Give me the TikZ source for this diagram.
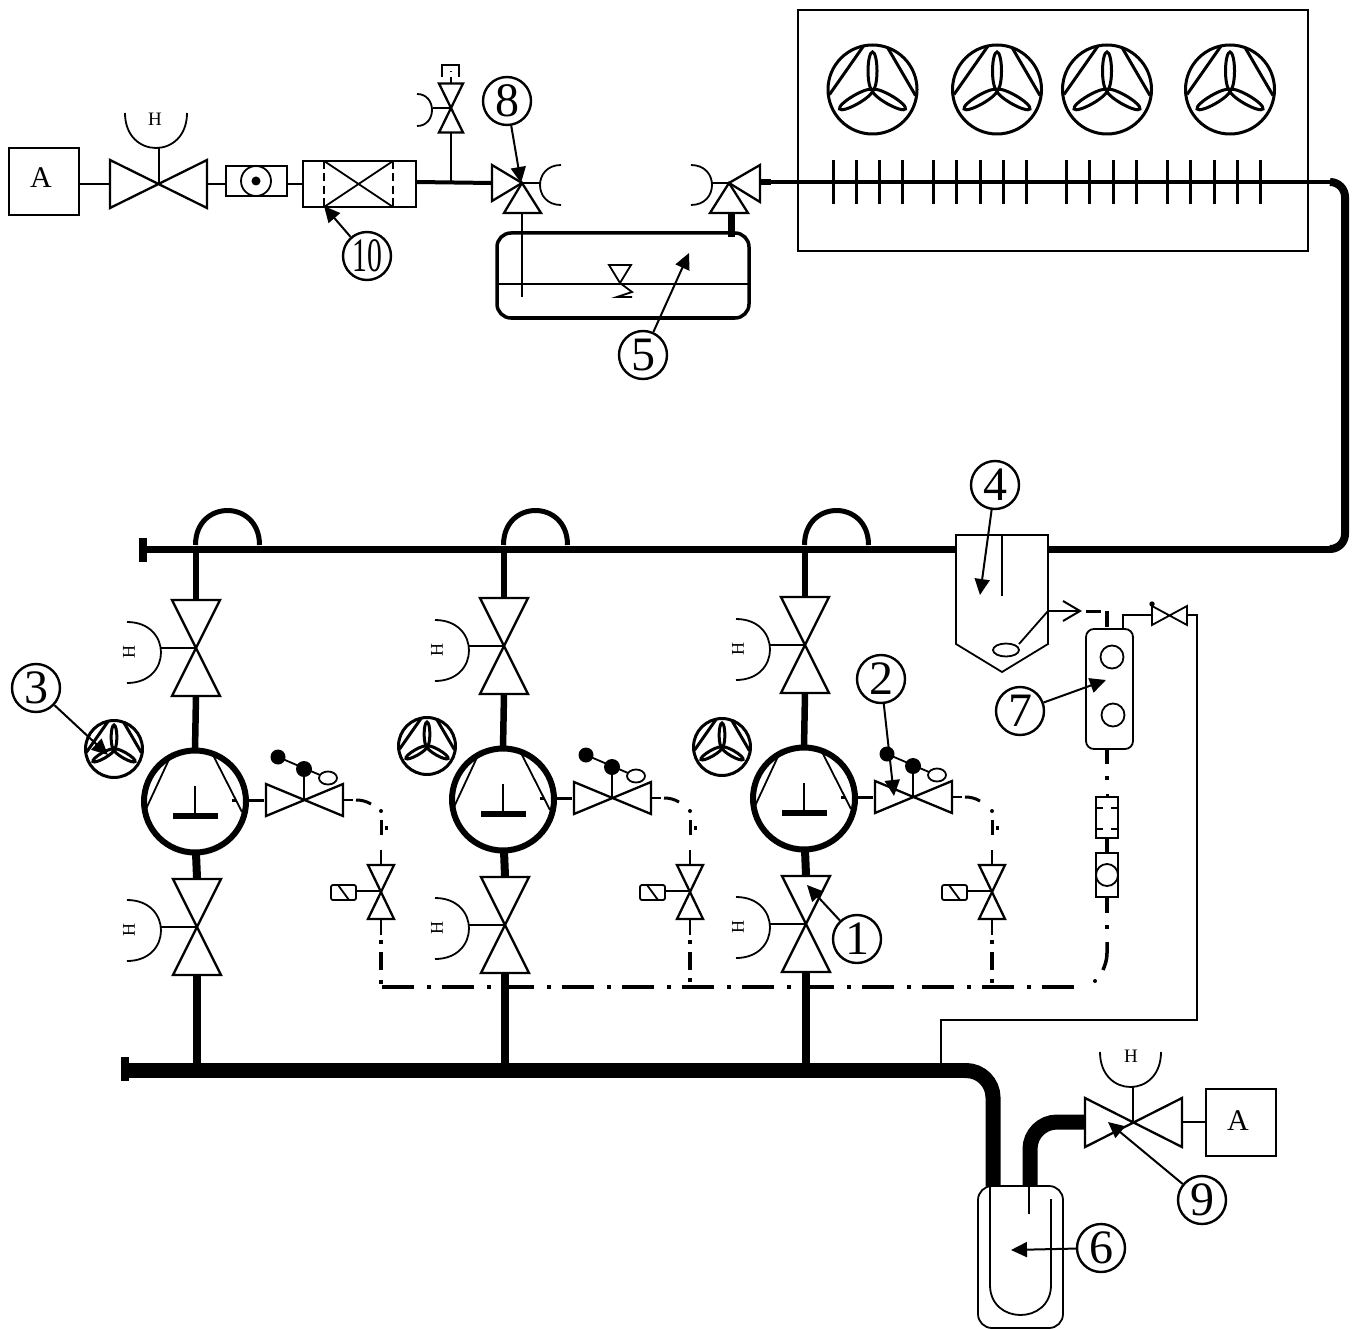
\documentclass[tikz,border=0pt]{standalone}
\usepackage{fontspec}
\setmainfont{Liberation Serif}
\usetikzlibrary{arrows.meta}
\newcommand\Handle[4]{% x0,x1,y0,depth: half ellipse opening away
  \pgfmathsetmacro\hk{#3+4/3*#4}
  \draw[thinl] (#1,#3) .. controls (#1,\hk) and (#2,\hk) .. (#2,#3);}
\newcommand\HandleL[3]{% open at left (x0), y0,y1, bulge to the right
  \pgfmathsetmacro\hk{#1+4/3*34}
  \draw[thinl] (#1,#2) .. controls (\hk,#2) and (\hk,#3) .. (#1,#3);}
\newcommand\FanAt[3]{%
 \begin{scope}[shift={(#1,#2)},scale=#3]
  \draw[fanl] (0,0) circle[radius=44.5pt];
  \draw[fanl] (-9,-43.5) -- (-43,5) (15,-42) -- (43,6);
  \begin{scope}[shift={(0,0.5)}]
  \foreach \a in {0,-120,120}{
    \begin{scope}[rotate=\a]
    \draw[fanl] (0,-19) ellipse[x radius=4.5pt,y radius=19pt];
    \end{scope}}
  \end{scope}
 \end{scope}}
\newcommand\VBow[5]{% x y hw hh style: vertical bowtie
  \draw[#5] ({#1-#3},{#2-#4}) -- ({#1+#3},{#2-#4}) -- ({#1-#3},{#2+#4}) -- ({#1+#3},{#2+#4}) -- cycle;}
\newcommand\HBow[5]{% horizontal bowtie
  \draw[#5] ({#1-#3},{#2-#4}) -- ({#1+#3},{#2+#4}) -- ({#1+#3},{#2-#4}) -- ({#1-#3},{#2+#4}) -- cycle;}
\newcommand\HmarkR[2]{\node[hrot] at (#1,#2) {H};}
\newcommand\VStack[3]{% name, x shift, y shift : isolation valves + compressor + relief valve
 \begin{scope}[shift={(#2,#3)}]
  \coordinate (#1busT) at (196,549);
  \coordinate (#1vaT) at (196,600);
  \coordinate (#1vaB) at (196,696);
  \coordinate (#1cT) at (195,750);
  \coordinate (#1cB) at (196,853);
  \coordinate (#1vbT) at (197,878);
  \coordinate (#1vbB) at (197,975);
  \coordinate (#1busB) at (197,1070);
  \draw[pipeb] (#1busT) -- (#1vaT);
  \draw[pipeb] (#1vaB) -- (#1cT);
  \draw[pipec] (#1cB) -- (#1vbT);
  \draw[pipec] (#1vbB) -- (#1busB);
  \VBow{196}{648}{24}{48}{valvel}
  \VBow{197}{927}{24}{48}{valvel}
  \draw[thinl] (196,648) -- (161,648);
  \draw[thinl] (197,927) -- (161,927);
  \HandleL{127}{622}{683}
  \HandleL{127}{900}{961}
  \HmarkR{129}{652}
  \HmarkR{129}{930}
  \draw[line width=6pt] (195,801.5) circle[radius=51pt];
  \draw[thinl] (172,753) -- (146,809) (212,753) -- (242,812);
  \draw[thinl] (195,786) -- (195,816);
  \draw[line width=5.5pt] (173,816) -- (218,816);
  \draw[line width=3pt] (232,800) -- (236,800);
  \draw[line width=3pt] (248,800) -- (264,800);
  \HBow{304.5}{800}{38.5}{16}{valvel}
  \draw[thinl] (304,800) -- (304,769);
  \draw[thinl] (278,757) -- (320,775);
  \fill (278,757) circle[radius=7.5pt];
  \fill (304,769) circle[radius=8pt];
  \draw[thinl,fill=white] (328,778) ellipse[x radius=9pt,y radius=6.5pt];
  \draw[line width=2.5pt] (343,800) -- (353,800);
  \draw[line width=3pt] (356,800) .. controls (361,800) and (366,801) .. (371,804);
 \end{scope}}
\newcommand\Sol[3]{% name, x of line, bottom-dot y
 \begin{scope}[shift={(#2-381,0)}]
  \fill (381,811) circle[radius=2pt];
  \draw[line width=3pt] (381,820) -- (381,835);
  \fill (385,826) rectangle (388,830);
  \draw[line width=2pt] (381,850) -- (381,865);
  \VBow{381}{892}{13}{27}{valvel}
  \draw[thinl] (356,891) -- (381,891);
  \draw[thinl,rounded corners=2pt] (331,885) rectangle (356,900);
  \draw[thinl] (338,885) -- (349,900);
  \draw[line width=2pt] (381,919) -- (381,935);
  \draw[line width=3.5pt] (381,940) -- (381,944) (381,952) -- (381,970);
  \fill (379,#3) rectangle (383,{#3+3.5});
 \end{scope}}
\tikzset{
  thinl/.style={line width=1.8pt},
  fanl/.style={line width=3pt},
  valvel/.style={line width=2.3pt,line join=miter},
  pipeb/.style={line width=6.5pt},
  pipec/.style={line width=8pt},
  bus/.style={line width=7pt},
  hugepipe/.style={line width=15pt},
  ptr/.style={line width=2pt,-{Triangle[length=16pt,width=15pt]}},
  num/.style={circle,draw,line width=2.4pt,minimum size=48pt,inner sep=0pt,font=\fontsize{48}{48}\selectfont},
  hrot/.style={rotate=90,inner sep=0pt,font=\fontsize{18}{18}\selectfont},
  hup/.style={inner sep=0pt,font=\fontsize{19}{19}\selectfont},
  bigA/.style={inner sep=0pt,font=\fontsize{30}{30}\selectfont}
}
\begin{document}
\begin{tikzpicture}[x=1pt,y=-1pt,line cap=butt]
\useasboundingbox (0,0) rectangle (1356,1329);
\fill[white] (0,0) rectangle (1356,1329);
% ---------- top line
\coordinate (boxAr) at (79,184);
\coordinate (v1l) at (110,184);
\coordinate (v1r) at (207,184);
\coordinate (chkl) at (226,184);
\coordinate (chkr) at (287,184);
\coordinate (fill) at (303,184);
\coordinate (filr) at (416,182);
\coordinate (v8l) at (492,183);
\coordinate (tee) at (451,182);
\coordinate (tvB) at (451,133);
\draw[thinl] (9,148) rectangle (79,215);
\node[bigA] (A1) at (41,178) {A};
\draw[line width=2.2pt] (boxAr) -- (v1l);
\HBow{158.5}{184}{48.5}{24}{valvel}
\draw[thinl] (159,184) -- (159,148);
\Handle{125}{187}{113}{35}
\node[hup] (H1) at (155,119) {H};
\draw[line width=2.2pt] (v1r) -- (chkl);
\draw[line width=2pt] (226,166) rectangle (287,196);
\draw[thinl] (256,181) ellipse[x radius=15pt,y radius=15pt];
\fill (256,181) circle[radius=4.5pt];
\draw[line width=2.2pt] (chkr) -- (fill);
\draw[line width=2pt] (303,161) rectangle (416,207);
\draw[thinl] (324,161) -- (393,207) (324,207) -- (393,161);
\draw[thinl,dash pattern=on 8pt off 4.5pt] (324,161) -- (324,207) (393,161) -- (393,207);
\draw[line width=4pt] (filr) -- (v8l);
\draw[line width=2pt] (tee) -- (tvB);
\VBow{451}{108}{12}{24.5}{valvel}
\draw[line width=2pt] (451,108) -- (433,108);
\draw[thinl] (417,94) .. controls (437,94) and (437,126) .. (417,126);
\draw[thinl] (451,83) -- (451,77);
\draw[thinl] (442,77) -- (442,65) -- (459,65) -- (459,77);
\draw[thinl] (451,72) -- (451,71);
% 3-way valve 8
\draw[valvel] (492,165) -- (522,183) -- (492,201) -- cycle;
\draw[valvel] (522,183) -- (504,213) -- (541,213) -- cycle;
\draw[line width=2pt] (522,183) -- (540,183);
\draw[thinl] (561,165) .. controls (533,165) and (533,205) .. (561,205);
\draw[thinl] (522,213) -- (522,297);
% tank
\draw[line width=3.5pt,rounded corners=14pt] (497,233) rectangle (749,318);
\draw[thinl] (497,284) -- (749,284);
\draw[thinl] (609,265) -- (631,265) -- (620,283) -- cycle;
\draw[thinl] (620,283) -- (632,292) -- (617,297) -- (632,297);
% 3-way valve right
\draw[valvel] (760,165) -- (729,183) -- (760,202) -- cycle;
\draw[valvel] (729,183) -- (710,213) -- (748,213) -- cycle;
\draw[line width=2pt] (729,183) -- (711,183);
\draw[thinl] (691,165) .. controls (719,165) and (719,205) .. (691,205);
\draw[line width=7pt] (731,213) -- (731,237);
\draw[line width=6pt] (760,182) -- (771,182);
% condenser
\draw[thinl] (798,10) rectangle (1308,251);
\draw[line width=3.5pt] (771,182) -- (1330,182);
\FanAt{872.5}{89.5}{1}
\FanAt{997}{89.5}{1}
\FanAt{1107}{89.5}{1}
\FanAt{1230}{89.5}{1}
\foreach \x in {833,856,879,902,933,956,980,1003,1026,1066,1089,1113,1136,1167,1190,1214,1237,1260}
  \draw[line width=3pt] (\x,160) -- (\x,204);
% discharge line
\draw[line width=8pt,rounded corners=15pt] (1330,182) -- (1345,182) -- (1345,549) -- (1330,549);
\draw[bus] (1332,549) -- (1048,549);
\draw[bus] (956,549) -- (147,549);
\draw[line width=8pt] (143,538) -- (143,562);
% separator 4
\draw[thinl] (956,535) -- (1048,535) -- (1048,644) -- (1002,672) -- (956,644) -- cycle;
\draw[thinl] (1002,535) -- (1002,596);
\draw[thinl] (1006,650) ellipse[x radius=13pt,y radius=6.5pt];
\draw[thinl] (1019,644) -- (1048,611) -- (1078,611);
\draw[line width=2pt] (1063,601) -- (1080,611) -- (1063,621);
\draw[line width=3pt] (1086,611) -- (1101,611);
\draw[line width=4pt] (1107,611) -- (1107,627);
% oil device 7
\draw[thinl,rounded corners=8pt] (1086,629) rectangle (1133,749);
\draw[thinl] (1112,657) circle[radius=11.5pt];
\draw[thinl] (1113,715) circle[radius=11.5pt];
\draw[thinl] (1123,629) -- (1123,615) -- (1152,615);
\HBow{1169.5}{615.5}{17.5}{9.5}{thinl}
\fill (1152,604) circle[radius=2.7pt];
\draw[line width=1.2pt] (1187,615) -- (1197,615) -- (1197,1020) -- (941,1020) -- (941,1063);
\draw[line width=4pt] (1107,749) -- (1107,764);
\fill (1105,776) rectangle (1109,780);
\draw[line width=3pt] (1107,794) -- (1107,797);
\draw[thinl] (1096,797) rectangle (1118,838);
\draw[thinl,dash pattern=on 7pt off 8pt on 7pt] (1096,808) -- (1118,808) (1096,829) -- (1118,829);
\draw[line width=4pt] (1107,838) -- (1107,853);
\draw[thinl] (1096,853) rectangle (1118,897);
\draw[thinl] (1107,875) circle[radius=11pt];
\draw[line width=4pt] (1107,897) -- (1107,913);
\fill (1105,925) rectangle (1109,929);
\draw[line width=3.5pt] (1107,942) -- (1107,953) .. controls (1107,960) and (1105,965) .. (1103,970);
\fill (1095,981) circle[radius=2pt];
% columns
\foreach \d in {0,308,609}{
  \draw[line width=5pt] ({195.5+\d},545) .. controls ({195.5+\d},499) and ({259.5+\d},499) .. ({259.5+\d},545);
}
\VStack{a}{0}{0}
\VStack{b}{308}{-2}
\VStack{c}{609}{-3}
\FanAt{114}{749}{0.64}
\FanAt{427}{746}{0.64}
\FanAt{722}{747}{0.64}
\Sol{a}{381}{980}
\Sol{b}{690}{978}
\Sol{c}{992}{979}
\draw[line width=4pt,dash pattern=on 32pt off 13pt on 4pt off 11pt] (382,987) -- (1080,987);
% suction header
\draw[line width=15pt] (129,1070.5) -- (965,1070.5);
\draw[line width=8pt] (125,1057) -- (125,1081);
\draw[hugepipe,rounded corners=27pt] (965,1070.5) -- (993,1070.5) -- (993,1186);
\draw[hugepipe,rounded corners=27pt] (1030,1186) -- (1030,1122) -- (1085,1122);
% valve 9
\HBow{1133.5}{1122.5}{48.5}{24.5}{valvel}
\draw[thinl] (1133,1122) -- (1133,1087);
\Handle{1100}{1161}{1052}{35}
\node[hup] (H2) at (1131,1056) {H};
\draw[thinl] (1182,1122) -- (1206,1122);
\draw[thinl] (1206,1089) rectangle (1276,1156);
\node[bigA] (A2) at (1238,1121) {A};
% receiver 6
\draw[thinl,rounded corners=14pt] (978,1186) rectangle (1063,1328);
\draw[thinl] (990,1186) -- (990,1285) .. controls (990,1325) and (1051,1325) .. (1051,1285) -- (1051,1199);
\draw[thinl] (1029,1186) -- (1029,1214);
% labels
\node[num] (n1) at (857,939) {1};
\node[num] (n2) at (881,679) {2};
\node[num] (n3) at (36,688) {3};
\node[num] (n4) at (995,485) {4};
\node[num] (n5) at (643,355) {5};
\node[num] (n6) at (1101,1248) {6};
\node[num] (n7) at (1020,711) {7};
\node[num] (n8) at (507,101) {8};
\node[num] (n9) at (1202,1200) {9};
\node[num] (n10) at (367,256) {\scalebox{0.62}[1]{10}};
\coordinate (t1) at (807,885);
\coordinate (t2) at (894,796);
\coordinate (t3) at (108,755);
\coordinate (t4) at (980,595);
\coordinate (t5) at (689,253);
\coordinate (t6) at (1011,1250);
\coordinate (t7) at (1106,680);
\coordinate (t8) at (521,183);
\coordinate (t9) at (1108,1122);
\coordinate (t10) at (324,206);
\foreach \i in {1,...,10}{\draw[ptr] (n\i) -- (t\i);}
\end{tikzpicture}
\end{document}
